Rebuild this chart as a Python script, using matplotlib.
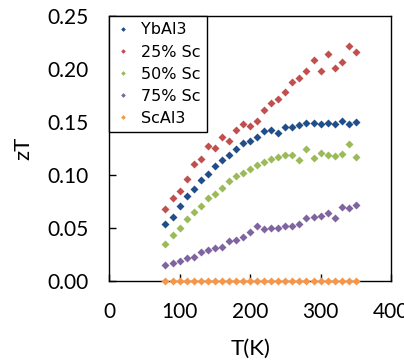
import numpy as np
import matplotlib
matplotlib.use("Agg")
import matplotlib.pyplot as plt

# temperaturas (K)
T = np.arange(80, 351, 10)

# zT
zt_yb = [0.054, 0.060, 0.071, 0.080, 0.087, 0.095, 0.101, 0.108, 0.114, 0.119,
         0.124, 0.130, 0.132, 0.136, 0.141, 0.142, 0.140, 0.145, 0.145, 0.147,
         0.149, 0.149, 0.148, 0.149, 0.148, 0.151, 0.148, 0.150]
zt_25 = [0.068, 0.078, 0.085, 0.096, 0.110, 0.115, 0.127, 0.125, 0.136, 0.132,
         0.142, 0.148, 0.146, 0.151, 0.161, 0.168, 0.172, 0.178, 0.188, 0.191,
         0.198, 0.208, 0.198, 0.214, 0.201, 0.207, 0.222, 0.216]
zt_50 = [0.035, 0.043, 0.050, 0.058, 0.065, 0.071, 0.078, 0.082, 0.088, 0.094,
         0.099, 0.102, 0.106, 0.109, 0.112, 0.115, 0.117, 0.119, 0.119, 0.114,
         0.124, 0.116, 0.121, 0.119, 0.118, 0.120, 0.129, 0.117]
zt_75 = [0.015, 0.017, 0.019, 0.022, 0.023, 0.027, 0.029, 0.031, 0.032, 0.038,
         0.039, 0.041, 0.046, 0.052, 0.049, 0.050, 0.050, 0.052, 0.052, 0.054,
         0.059, 0.060, 0.061, 0.064, 0.059, 0.070, 0.069, 0.072]
zt_sc = [0.0] * 28

series = [zt_yb, zt_25, zt_50, zt_75, zt_sc]
nombres = ["YbAl3", "25% Sc", "50% Sc", "75% Sc", "ScAl3"]
colores = ["#1F4E89", "#C0504D", "#9BBB59", "#8064A2", "#F79646"]

fig = plt.figure(figsize=(4.04, 3.62), dpi=100)
ax = fig.add_axes([0.270, 0.224, 0.698, 0.732])

for y, nom, c in zip(series, nombres, colores):
    ax.plot(T, y, ls="none", marker="D", ms=4.0, mec="none", color=c,
            label=nom, clip_on=False, zorder=3)

ax.set_xlim(0, 400)
ax.set_ylim(0, 0.25)
ax.set_xticks([0, 100, 200, 300, 400])
ax.set_yticks(np.arange(0, 0.26, 0.05))
ax.yaxis.set_major_formatter(matplotlib.ticker.FormatStrFormatter("%.2f"))
ax.tick_params(direction="in", length=5, width=1, pad=15, labelsize=15,
               top=False, right=False)
for lab in ax.get_xticklabels() + ax.get_yticklabels():
    lab.set_fontfamily("Lato")
for s in ax.spines.values():
    s.set_linewidth(1)
    s.set_color("black")

ax.set_xlabel("T(K)", fontsize=16, fontfamily="Lato", labelpad=12)
ax.set_ylabel("zT", fontsize=16, fontfamily="Lato", labelpad=10)

leg = ax.legend(loc="upper left", bbox_to_anchor=(0.0, 1.0), fontsize=11.5,
                markerscale=0.6, frameon=True, fancybox=False, framealpha=1,
                edgecolor="black", borderaxespad=0, handlelength=1.0,
                handletextpad=0.6, labelspacing=0.45, borderpad=0.4)
leg.get_frame().set_linewidth(1)

fig.savefig("out.png", dpi=100)
